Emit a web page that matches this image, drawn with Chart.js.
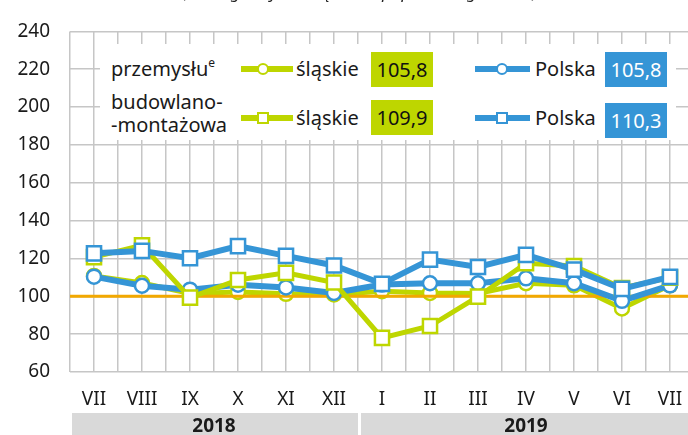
<!DOCTYPE html>
<html lang="pl">
<head>
<meta charset="utf-8">
<title>Produkcja</title>
<script src="https://cdn.jsdelivr.net/npm/chart.js@4/dist/chart.umd.min.js"></script>
<style>
  html, body { margin: 0; padding: 0; background: #fff; overflow: hidden; }
  .wrap { position: relative; width: 710px; height: 435px; }
  .title { position: absolute; top: -20px; left: 140px; width: 440px; text-align: center;
           font: italic 17px "Noto Sans", sans-serif; color: #222; white-space: nowrap; }
  .legend-bg { position: absolute; left: 100px; top: 44px; width: 576px; height: 96px; background: #fff; }
  .lg { position: absolute; font-family: "Noto Sans", sans-serif; font-size: 20px; color: #1a1a1a;
        line-height: 28px; white-space: nowrap; }
  .lg sup { font-size: 12px; vertical-align: 9px; line-height: 0; }
  .bar { position: absolute; height: 6px; }
  .dot { position: absolute; box-sizing: border-box; background: #fff; border-width: 2.5px; border-style: solid; }
  .val { position: absolute; width: 62px; height: 35px; line-height: 35px; text-align: center;
         font-family: "Noto Sans", sans-serif; font-size: 20px; }
</style>
</head>
<body>
<div class="wrap">
  <canvas id="chart" width="710" height="435"></canvas>
  <div class="title">(analogiczny miesiąc roku poprzedniego = 100)</div>

  <div class="legend-bg"></div>
  <div class="lg" style="left:111px; top:55px;">przemysłu<sup>e</sup></div>
  <div class="lg" style="left:111px; top:88px;">budowlano-</div>
  <div class="lg" style="left:111px; top:111px;">-montażowa</div>

  <!-- row 1 -->
  <div class="bar" style="left:241px; top:66px; width:52px; background:#bed600;"></div>
  <div class="dot" style="left:257px; top:63px; width:12px; height:12px; border-radius:50%; border-color:#bed600;"></div>
  <div class="lg" style="left:296px; top:55px;">śląskie</div>
  <div class="val" style="left:371px; top:52px; background:#bed600; color:#111;">105,8</div>

  <div class="bar" style="left:475px; top:66px; width:55px; background:#3595d6;"></div>
  <div class="dot" style="left:496px; top:63px; width:12px; height:12px; border-radius:50%; border-color:#3595d6;"></div>
  <div class="lg" style="left:535px; top:55px;">Polska</div>
  <div class="val" style="left:605px; top:52px; background:#3595d6; color:#fff;">105,8</div>

  <!-- row 2 -->
  <div class="bar" style="left:241px; top:115px; width:52px; background:#bed600;"></div>
  <div class="dot" style="left:257px; top:112px; width:12px; height:12px; border-color:#bed600;"></div>
  <div class="lg" style="left:296px; top:104px;">śląskie</div>
  <div class="val" style="left:371px; top:100px; background:#bed600; color:#111;">109,9</div>

  <div class="bar" style="left:475px; top:115px; width:55px; background:#3595d6;"></div>
  <div class="dot" style="left:496px; top:112px; width:12px; height:12px; border-color:#3595d6;"></div>
  <div class="lg" style="left:535px; top:104px;">Polska</div>
  <div class="val" style="left:605px; top:103px; background:#3595d6; color:#fff;">110,3</div>
</div>

<script>
  // Months VII 2018 - VII 2019
  const months = ['VII', 'VIII', 'IX', 'X', 'XI', 'XII', 'I', 'II', 'III', 'IV', 'V', 'VI', 'VII'];
  const yearLabels = ['2018', '2019'];
  const yearSpans = [6, 7];

  // Values (analogiczny miesiąc roku poprzedniego = 100)
  const przemyslSlaskie = [110.8, 107, 101.5, 102.3, 101.3, 101, 102.7, 101.8, 101.5, 106.9, 105.8, 93.6, 105.8];
  const przemyslPolska  = [110.4, 105.6, 103.5, 106.1, 104.7, 101.8, 106.2, 106.9, 106.9, 109.5, 106.9, 97.6, 105.8];
  const budowlSlaskie   = [120.7, 127, 99.3, 108.6, 112.4, 107.3, 78, 84.3, 99.8, 117.5, 116, 104.4, 109.9];
  const budowlPolska    = [122.7, 124, 120.1, 126.5, 121.4, 116.3, 106.6, 119.4, 115.5, 121.9, 114.1, 103.9, 110.3];

  const yMin = 60;
  const yMax = 240;
  const yStep = 20;
  const refLevel = 100;

  const green = '#bed600';
  const blue = '#3595d6';
  const orange = '#f2a800';
  const gridColor = '#c6c6c6';
  const textColor = '#1a1a1a';

  function points(values) {
    return values.map((v, i) => ({ x: i, y: v }));
  }

  // Grey year bars under the month labels
  const yearBars = {
    id: 'yearBars',
    afterDraw(chart) {
      const { ctx, scales: { x } } = chart;
      let start = 0;
      ctx.save();
      yearLabels.forEach((label, i) => {
        const end = start + yearSpans[i];
        const left = x.getPixelForValue(start - 0.5) + (i === 0 ? 2 : 3);
        const right = x.getPixelForValue(end - 0.5);
        ctx.fillStyle = '#d9d9d9';
        ctx.fillRect(left, 413, right - left, chart.height - 413);
        ctx.fillStyle = textColor;
        ctx.font = 'bold 19px "Noto Sans", sans-serif';
        ctx.textAlign = 'center';
        ctx.textBaseline = 'middle';
        const mid = x.getPixelForValue((start + end - 1) / 2);
        ctx.fillText(label, mid, 427);
        start = end;
      });
      ctx.restore();
    }
  };

  const ctx = document.getElementById('chart').getContext('2d');
  new Chart(ctx, {
    type: 'line',
    data: {
      datasets: [
        {
          label: 'budowlano-montażowa Polska',
          data: points(budowlPolska),
          borderColor: blue, borderWidth: 6,
          pointStyle: 'rect', pointRadius: 10, pointBorderWidth: 2.5,
          pointBackgroundColor: '#fff', pointBorderColor: blue
        },
        {
          label: 'budowlano-montażowa śląskie',
          data: points(budowlSlaskie),
          borderColor: green, borderWidth: 5,
          pointStyle: 'rect', pointRadius: 10, pointBorderWidth: 2.5,
          pointBackgroundColor: '#fff', pointBorderColor: green
        },
        {
          label: 'przemysłu Polska',
          data: points(przemyslPolska),
          borderColor: blue, borderWidth: 6,
          pointStyle: 'circle', pointRadius: 7, pointBorderWidth: 2.5,
          pointBackgroundColor: '#fff', pointBorderColor: blue
        },
        {
          label: '100',
          data: [{ x: -0.5, y: refLevel }, { x: months.length - 0.5, y: refLevel }],
          borderColor: orange, borderWidth: 3, pointRadius: 0
        },
        {
          label: 'przemysłu śląskie',
          data: points(przemyslSlaskie),
          borderColor: green, borderWidth: 5,
          pointStyle: 'circle', pointRadius: 7, pointBorderWidth: 2.5,
          pointBackgroundColor: '#fff', pointBorderColor: green
        }
      ]
    },
    options: {
      responsive: false,
      animation: false,
      devicePixelRatio: 1,
      events: [],
      layout: { padding: { top: 20, right: 0, left: 0, bottom: 0 } },
      plugins: {
        legend: { display: false },
        tooltip: { enabled: false }
      },
      scales: {
        x: {
          type: 'linear',
          min: -0.5,
          max: months.length - 0.5,
          afterFit: (s) => { s.height = 63; },
          border: { display: false },
          grid: { color: gridColor, lineWidth: 1.5, drawTicks: false },
          ticks: {
            stepSize: 0.5,
            autoSkip: false,
            maxRotation: 0,
            padding: 16,
            color: textColor,
            font: { family: '"Noto Sans", sans-serif', size: 19 },
            callback: (v) => Number.isInteger(v) ? months[v] : ''
          }
        },
        y: {
          min: yMin,
          max: yMax,
          afterFit: (s) => { s.width = 70; },
          border: { display: false },
          grid: { color: gridColor, lineWidth: 1.5, drawTicks: false },
          ticks: {
            stepSize: yStep,
            padding: 20,
            color: textColor,
            font: { family: '"Noto Sans", sans-serif', size: 19 }
          }
        }
      }
    },
    plugins: [yearBars]
  });
</script>
</body>
</html>
